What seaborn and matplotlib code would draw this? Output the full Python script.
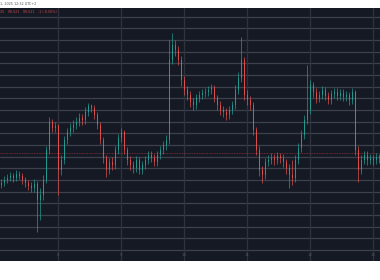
import numpy as np
import pandas as pd
import matplotlib
matplotlib.use("Agg")
import matplotlib.pyplot as plt
import seaborn as sns

# ---- data (price in pips-like units) ----
opens = [115, 117, 120, 122, 124, 122, 126, 124, 120, 117, 114, 112, 116, 100, 105, 120, 150, 178, 172, 174,
         130, 140, 160, 168, 172, 175, 178, 182, 180, 188, 194, 192, 185, 175, 160, 142, 130, 138, 135, 150,
         162, 168, 150, 140, 135, 132, 140, 130, 135, 140, 145, 142, 138, 145, 150, 155, 160, 240, 255, 250,
         240, 220, 210, 205, 198, 195, 202, 205, 207, 208, 210, 212, 202, 195, 190, 188, 185, 190, 195, 210,
         222, 240, 205, 200, 195, 170, 150, 130, 125, 138, 140, 142, 140, 144, 142, 138, 132, 125, 122, 140,
         152, 165, 180, 190, 215, 208, 202, 205, 210, 204, 200, 206, 208, 204, 207, 203, 205, 200, 208, 150,
         130, 140, 145, 140, 142, 140, 143]
closes = [117, 120, 122, 124, 122, 126, 124, 120, 117, 114, 112, 116, 100, 105, 120, 150, 178, 172, 174, 130,
          140, 160, 168, 172, 175, 178, 182, 180, 188, 194, 192, 185, 175, 160, 142, 130, 138, 135, 150, 162,
          168, 150, 140, 135, 132, 140, 130, 135, 140, 145, 142, 138, 145, 150, 155, 160, 240, 255, 250, 240,
          220, 210, 205, 198, 195, 202, 205, 207, 208, 210, 212, 202, 195, 190, 188, 185, 190, 195, 210, 222,
          240, 205, 200, 195, 170, 150, 130, 125, 138, 140, 142, 140, 144, 142, 138, 132, 125, 122, 140, 152,
          165, 180, 190, 215, 208, 202, 205, 210, 204, 200, 206, 208, 204, 207, 203, 205, 200, 208, 150, 130,
          140, 145, 140, 142, 140, 143, 142]
highs = [121, 124, 126, 128, 127, 130, 129, 127, 123, 120, 118, 121, 119, 112, 125, 154, 183, 181, 178, 176,
         145, 164, 172, 177, 180, 183, 187, 186, 193, 197, 196, 195, 188, 178, 163, 145, 142, 143, 154, 166,
         172, 170, 153, 144, 139, 144, 143, 139, 144, 149, 149, 146, 149, 154, 159, 165, 260, 267, 260, 254,
         244, 224, 214, 209, 202, 206, 209, 211, 212, 214, 216, 215, 205, 199, 194, 192, 194, 199, 215, 228,
         263, 243, 210, 204, 198, 173, 154, 134, 142, 145, 147, 146, 148, 147, 146, 141, 136, 140, 145, 157,
         170, 185, 235, 220, 218, 212, 209, 214, 213, 208, 210, 212, 212, 211, 211, 209, 208, 212, 210, 154,
         145, 149, 149, 146, 145, 147, 146]
lows = [112, 114, 117, 119, 118, 119, 121, 116, 113, 110, 108, 108, 68, 80, 100, 117, 146, 168, 168, 105,
        125, 136, 156, 164, 168, 171, 174, 175, 176, 184, 188, 181, 171, 156, 137, 123, 126, 130, 131, 146,
        158, 146, 135, 130, 127, 128, 126, 126, 131, 136, 138, 134, 134, 141, 146, 150, 156, 236, 244, 235,
        214, 205, 200, 193, 190, 191, 198, 201, 203, 204, 206, 198, 190, 185, 183, 180, 181, 186, 191, 206,
        218, 200, 195, 190, 165, 145, 124, 117, 121, 134, 136, 135, 136, 137, 133, 126, 112, 115, 118, 136,
        148, 161, 176, 186, 203, 197, 198, 201, 200, 196, 196, 202, 200, 200, 199, 199, 195, 196, 145, 118,
        126, 136, 135, 136, 135, 136, 137]
day_labels = ["8", "9", "10", "11", "12", "13"]
day_positions = [18.83, 39.83, 60.83, 81.83, 102.83, 123.83]
last_price = 147
header_text = "1, 2025 12:32 UTC+2"
ohlc_text = "25   90.521   90.521   -1 (-0.00%)"

df = pd.DataFrame({"open": opens, "high": highs, "low": lows, "close": closes})
df["idx"] = np.arange(len(df))
df["up"] = df["close"] >= df["open"]

BG = "#151924"
UP = "#26a69a"
DOWN = "#ef5350"

sns.set_theme(style="dark")
plt.rcParams["font.family"] = ["DejaVu Sans"]

fig = plt.figure(figsize=(3.8, 2.8), dpi=100, facecolor="white")
ax = fig.add_axes([0, 19 / 280, 1, 253 / 280])
ax.set_facecolor(BG)

# grid
ygrid = [283.3 - 11.667 * k for k in range(21)]
for yv in ygrid:
    ax.axhline(yv, color="#3d414c", lw=0.9, zorder=1)
for xv in day_positions:
    ax.axvline(xv, color="#2f333e", lw=0.9, zorder=1)

# candles
cols = [UP if u else DOWN for u in df["up"]]
ax.vlines(df["idx"], df["low"], df["high"], colors=cols, lw=0.6, alpha=0.75, zorder=3)
bottoms = df[["open", "close"]].min(axis=1)
heights = (df["close"] - df["open"]).abs().clip(lower=0.8)
ax.bar(df["idx"], heights, bottom=bottoms, width=0.45, color=cols, alpha=0.75, linewidth=0, zorder=3)

# last price line
ax.axhline(last_price, color="#a83a3c", lw=0.6, ls=(0, (1, 1)), alpha=0.8, zorder=2)

ax.set_xlim(-0.5, 126.1667)
ax.set_ylim(39, 292)
ax.set_xticks([])
ax.set_yticks([])
for s in ax.spines.values():
    s.set_visible(False)

for xv, lab in zip(day_positions, day_labels):
    ax.text(xv, 0.015, lab, transform=ax.get_xaxis_transform(), ha="center", va="bottom",
            fontsize=2.8, color="#4f5460")

fig.text(0.0, 1 - 4 / 280, header_text, ha="left", va="center", fontsize=2.4, color="#555")
ax.text(0.0, 1 - 4 / 253, ohlc_text, transform=ax.transAxes, ha="left", va="center",
        fontsize=2.4, color=DOWN, alpha=0.85)

fig.savefig("out.png", dpi=100, facecolor="white")
